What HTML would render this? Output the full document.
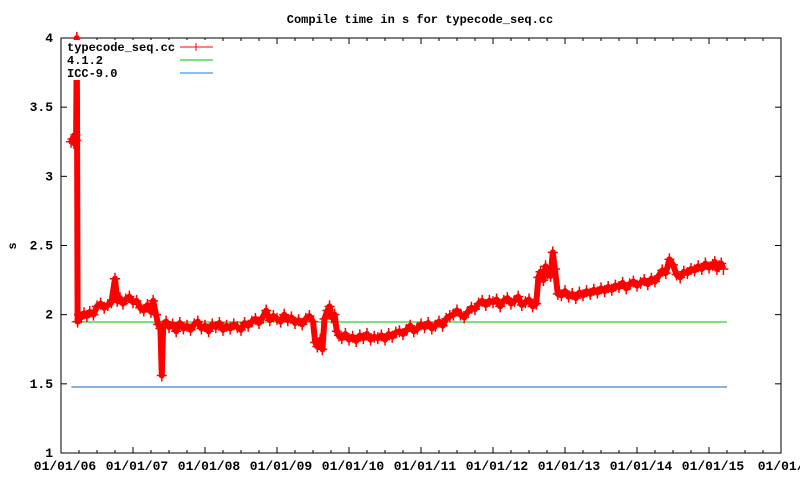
<!DOCTYPE html>
<html><head><meta charset="utf-8"><style>
html,body{margin:0;padding:0;background:#fff;}
svg{display:block;font-family:"Liberation Mono","DejaVu Sans Mono",monospace;font-weight:bold;}
</style></head><body>
<svg id="chart" width="800" height="480" viewBox="0 0 800 480">
<text x="420" y="23" text-anchor="middle" font-size="12">Compile time in s for typecode_seq.cc</text>
<text x="16" y="246" text-anchor="middle" font-size="12" transform="rotate(-90 16 246)">s</text>
<g id="axes"></g>
<g id="series"></g>
<g id="legend">
<rect x="64" y="40" width="152" height="40" fill="#fff"/>
<text x="67" y="51" font-size="12">typecode_seq.cc</text>
<line x1="180" y1="47" x2="213" y2="47" stroke="#f00"/>
<line x1="196" y1="43" x2="196" y2="51" stroke="#f00"/>
<text x="67" y="64" font-size="12">4.1.2</text>
<line x1="180" y1="60" x2="213" y2="60" stroke="#00c000"/>
<text x="67" y="77" font-size="12">ICC-9.0</text>
<line x1="180" y1="73" x2="213" y2="73" stroke="#0080ff"/>
</g>
</svg>
<script>
const yTicks=[1,1.5,2,2.5,3,3.5,4];
const yTickLabels=["1","1.5","2","2.5","3","3.5","4"];
const xTicks=[2006,2007,2008,2009,2010,2011,2012,2013,2014,2015,2016];
const xTickLabels=["01/01/06","01/01/07","01/01/08","01/01/09","01/01/10","01/01/11","01/01/12","01/01/13","01/01/14","01/01/15","01/01/1"];
const refGcc=1.947;
const refIcc=1.477;
const refStart=2006.2, refEnd=2015.25;
const times=[2006.14,2006.16,2006.18,2006.2,2006.21,2006.22,2006.23,2006.25,2006.28,2006.32,2006.36,2006.4,2006.45,2006.5,2006.55,2006.6,2006.65,2006.7,2006.75,2006.78,2006.82,2006.86,2006.9,2006.95,2007.0,2007.05,2007.1,2007.15,2007.2,2007.25,2007.28,2007.32,2007.35,2007.38,2007.4,2007.42,2007.46,2007.5,2007.55,2007.6,2007.65,2007.7,2007.75,2007.8,2007.85,2007.9,2007.95,2008.0,2008.05,2008.1,2008.15,2008.2,2008.25,2008.3,2008.35,2008.4,2008.45,2008.5,2008.55,2008.6,2008.65,2008.7,2008.75,2008.8,2008.85,2008.9,2008.95,2009.0,2009.05,2009.1,2009.15,2009.2,2009.25,2009.3,2009.35,2009.4,2009.45,2009.5,2009.53,2009.56,2009.6,2009.63,2009.66,2009.7,2009.73,2009.76,2009.8,2009.83,2009.86,2009.9,2009.95,2010.0,2010.05,2010.1,2010.15,2010.2,2010.25,2010.3,2010.35,2010.4,2010.45,2010.5,2010.55,2010.6,2010.65,2010.7,2010.75,2010.8,2010.85,2010.9,2010.95,2011.0,2011.05,2011.1,2011.15,2011.2,2011.25,2011.3,2011.35,2011.4,2011.45,2011.5,2011.55,2011.6,2011.65,2011.7,2011.75,2011.8,2011.85,2011.9,2011.95,2012.0,2012.05,2012.1,2012.15,2012.2,2012.25,2012.3,2012.35,2012.4,2012.45,2012.5,2012.55,2012.6,2012.63,2012.66,2012.7,2012.73,2012.76,2012.8,2012.83,2012.86,2012.9,2012.95,2013.0,2013.05,2013.1,2013.15,2013.2,2013.25,2013.3,2013.35,2013.4,2013.45,2013.5,2013.55,2013.6,2013.65,2013.7,2013.75,2013.8,2013.85,2013.9,2013.95,2014.0,2014.05,2014.1,2014.15,2014.2,2014.25,2014.3,2014.35,2014.4,2014.45,2014.5,2014.55,2014.6,2014.65,2014.7,2014.75,2014.8,2014.85,2014.9,2014.95,2015.0,2015.05,2015.08,2015.11,2015.14,2015.17,2015.2,2015.23,2015.25];
const values=[3.25,3.27,3.24,3.3,3.26,4.0,1.95,2.0,1.98,2.01,1.99,2.02,2.0,2.06,2.08,2.05,2.07,2.09,2.26,2.1,2.12,2.08,2.11,2.13,2.09,2.1,2.05,2.03,2.07,2.02,2.1,2.0,1.93,1.9,1.56,1.92,1.95,1.91,1.93,1.88,1.94,1.9,1.92,1.89,1.93,1.95,1.9,1.92,1.88,1.93,1.91,1.94,1.89,1.92,1.9,1.93,1.91,1.89,1.94,1.92,1.95,1.97,1.94,1.98,2.03,1.96,1.99,1.97,1.95,2.0,1.96,1.98,1.94,1.96,1.93,1.97,1.99,1.95,1.8,1.77,1.82,1.75,1.97,2.03,2.06,1.98,2.0,1.88,1.85,1.83,1.86,1.82,1.84,1.81,1.85,1.83,1.86,1.82,1.84,1.83,1.85,1.82,1.86,1.84,1.87,1.88,1.86,1.89,1.92,1.88,1.9,1.93,1.91,1.94,1.9,1.92,1.95,1.92,1.97,1.99,2.0,2.03,2.0,1.98,2.02,2.05,2.04,2.08,2.1,2.07,2.1,2.09,2.11,2.06,2.1,2.12,2.08,2.1,2.13,2.07,2.09,2.11,2.06,2.08,2.27,2.31,2.25,2.35,2.3,2.28,2.45,2.33,2.15,2.14,2.17,2.13,2.15,2.12,2.16,2.14,2.17,2.15,2.18,2.16,2.19,2.17,2.2,2.18,2.21,2.2,2.23,2.19,2.22,2.24,2.21,2.23,2.25,2.22,2.26,2.24,2.28,2.32,2.3,2.4,2.36,2.29,2.27,2.31,2.3,2.33,2.32,2.35,2.33,2.37,2.34,2.36,2.38,2.33,2.35,2.37,2.33];
const L=61,R=781,T=38,B=453;
const xs=t=>L+(t-2006)/10*(R-L);
const ys=v=>B-(v-1)/3*(B-T);
const NS="http://www.w3.org/2000/svg";
function mk(tag,attrs,parent){const e=document.createElementNS(NS,tag);for(const k in attrs)e.setAttribute(k,attrs[k]);parent.appendChild(e);return e;}
const ax=document.getElementById('axes');
const frame=mk('rect',{x:L,y:T,width:R-L,height:B-T,fill:'none',stroke:'#000'},ax);


yTicks.forEach((v,i)=>{
  const y=ys(v);
  mk('line',{x1:L,y1:y,x2:L+6,y2:y,stroke:'#000'},ax);
  mk('line',{x1:R,y1:y,x2:R-6,y2:y,stroke:'#000'},ax);
  const tx=mk('text',{x:L-8,y:y+4,'text-anchor':'end','font-size':'13'},ax);
  tx.textContent=yTickLabels[i];
  
  
});
xTicks.forEach((t,i)=>{
  const x=xs(t);
  mk('line',{x1:x,y1:B,x2:x,y2:B-6,stroke:'#000'},ax);
  mk('line',{x1:x,y1:T,x2:x,y2:T+6,stroke:'#000'},ax);
  if(i<xTicks.length-1){
    for(let m=1;m<4;m++){const xm=xs(t+m/4);
      mk('line',{x1:xm,y1:B,x2:xm,y2:B-3,stroke:'#000'},ax);
      mk('line',{x1:xm,y1:T,x2:xm,y2:T+3,stroke:'#000'},ax);}
  }
  const tx=mk('text',{x:x+4,y:B+17,'text-anchor':'middle','font-size':'13'},ax);
  tx.textContent=xTickLabels[i];
  
  
});
const sg=document.getElementById('series');
const icc=mk('line',{x1:xs(refStart)-4,y1:ys(refIcc),x2:xs(refEnd),y2:ys(refIcc),stroke:'#1060c0'},sg);


const gcc=mk('line',{x1:xs(refStart)-4,y1:ys(refGcc),x2:xs(refEnd),y2:ys(refGcc),stroke:'#00c000'},sg);


const pts=times.map((t,i)=>xs(t).toFixed(1)+','+ys(values[i]).toFixed(1)).join(' ');
const pl=mk('polyline',{points:pts,fill:'none',stroke:'#f00','stroke-width':'6','stroke-linejoin':'round'},sg);


times.forEach((t,i)=>{
  const x=xs(t),y=ys(values[i]);
  const p=mk('path',{d:`M${x-5},${y}h10M${x},${y-6}v12`,stroke:'#f00','stroke-width':'1.5'},sg);
  
  
});
</script>
</body></html>
